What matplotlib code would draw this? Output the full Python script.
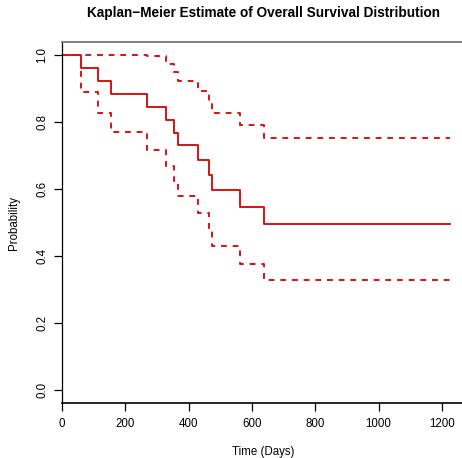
import matplotlib
matplotlib.use("Agg")
import matplotlib.pyplot as plt

plt.rcParams['font.family'] = ['Liberation Sans', 'DejaVu Sans']

# Kaplan-Meier step data (time in days)
times = [0, 59, 115, 156, 268, 329, 353, 365, 431, 464, 475, 563, 638, 1227]
surv = [1.0, 0.9615, 0.9231, 0.8846, 0.8462, 0.8077, 0.7692, 0.7308, 0.6878,
        0.6419, 0.5961, 0.5464, 0.4967, 0.4967]
upper = [1.0, 1.0, 1.0, 1.0, 0.9969, 0.9743, 0.9495, 0.9229, 0.8937,
         0.8619, 0.8280, 0.7912, 0.7520, 0.7520]
lower = [1.0, 0.8904, 0.8262, 0.7700, 0.7183, 0.6696, 0.6231, 0.5787, 0.5294,
         0.4780, 0.4292, 0.3773, 0.3281, 0.3281]

xticks = [0, 200, 400, 600, 800, 1000, 1200]
yticks = [0.0, 0.2, 0.4, 0.6, 0.8, 1.0]

title = "Kaplan\u2212Meier Estimate of Overall Survival Distribution"
xlabel = "Time (Days)"
ylabel = "Probability"

W, H = 462, 458
fig = plt.figure(figsize=(W / 100, H / 100), dpi=100)
ax = fig.add_axes([62 / W, (H - 403) / H, (465 - 62) / W, (403 - 42) / H])

red = '#D41414'
ax.step(times, surv, where='post', color=red, lw=1.4)
ax.step(times, upper, where='post', color=red, lw=1.4, linestyle=(0, (3, 3)))
ax.step(times, lower, where='post', color=red, lw=1.4, linestyle=(0, (3, 3)))

ax.set_xlim(0, 1273)
ax.set_ylim(-0.04, 1.04)

ax.spines['right'].set_visible(False)
ax.spines['top'].set_color('#808080')
ax.spines['top'].set_linewidth(1.4)
ax.spines['bottom'].set_linewidth(1.2)
ax.spines['left'].set_linewidth(0.9)

ax.set_xticks(xticks)
ax.set_xticklabels([str(t) for t in xticks])
ax.set_yticks(yticks)
ax.set_yticklabels([f"{t:.1f}" for t in yticks], rotation=90, va='center')
ax.tick_params(axis='both', direction='out', length=5.5, width=0.9,
               labelsize=8.3, colors='black')
ax.tick_params(axis='x', pad=5.5)
ax.tick_params(axis='y', pad=4.5)

fig.text(263.5 / W, 1 - 13 / H, title, ha='center', va='center',
         fontsize=9.8, fontweight='bold')
fig.text(263.5 / W, 1 - 452 / H, xlabel, ha='center', va='center', fontsize=8.3)
fig.text(14 / W, 1 - 222.5 / H, ylabel, ha='center', va='center', fontsize=8.3,
         rotation=90)

fig.savefig("out.png", dpi=100)
